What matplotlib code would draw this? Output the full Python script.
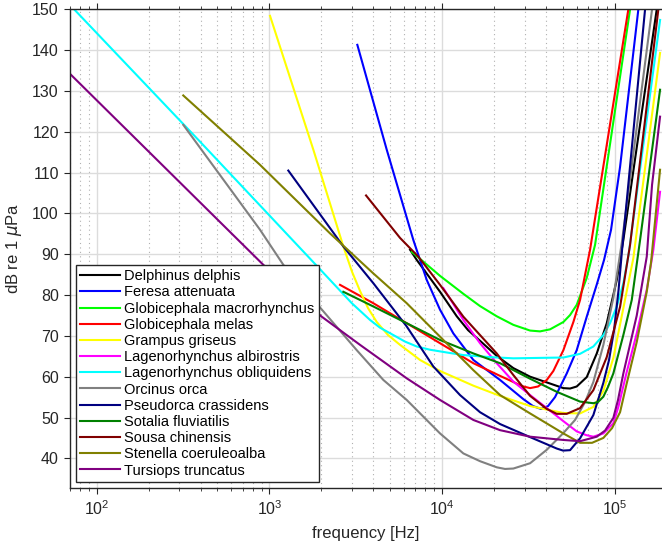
import matplotlib
matplotlib.use("Agg")
import matplotlib.pyplot as plt
from matplotlib.ticker import LogLocator, FixedLocator, NullFormatter

plt.rcParams['font.family'] = ['Liberation Sans', 'DejaVu Sans']

# audiogram curves: frequency [Hz] and threshold [dB re 1 uPa]
delphinus_f = [6520, 7129, 9723, 12150, 14130, 16570, 20710, 25840, 32300, 40350,
               50350, 55040, 60150, 68750, 78600, 89760, 102600, 112000, 174800]
delphinus_db = [91.1, 88.6, 80.8, 74.8, 71.4, 68.8, 65.1, 62.1, 60.0, 58.6,
                57.2, 57.1, 57.6, 59.9, 65.7, 73.1, 83.7, 93.5, 150.0]

feresa_f = [3228, 4778, 6810, 8144, 9723, 11610, 15160, 21640, 29530, 33590, 37380,
            41040, 45050, 52670, 60150, 68750, 78600, 86590, 95060, 107200, 136800]
feresa_db = [141.3, 115.6, 93.5, 83.7, 76.4, 70.6, 64.1, 59.2, 54.5, 52.8, 52.1,
             52.8, 55.0, 60.8, 66.5, 74.7, 82.6, 88.6, 96.0, 111.4, 150.0]

macrorhynchus_f = [6668, 9723, 13270, 16570, 20710, 25840, 32300, 36890, 42150, 50350,
                   55040, 60150, 68750, 76810, 122500]
macrorhynchus_db = [90.6, 84.7, 80.3, 77.3, 74.8, 72.7, 71.3, 71.1, 71.6, 73.4,
                    75.1, 77.6, 84.2, 92.3, 150.0]

melas_f = [2563, 3996, 6237, 9723, 15160, 21640, 25840, 29010, 32300, 35920, 40350,
           44050, 50350, 57530, 62880, 71860, 119700]
melas_db = [82.5, 78.0, 73.1, 68.2, 63.3, 60.2, 58.7, 57.7, 57.2, 57.6, 59.2,
            61.4, 66.5, 73.4, 78.8, 91.1, 150.0]

grampus_f = [1008, 1796, 2679, 3008, 3346, 3723, 4181, 4863, 5704, 7447, 9723, 15160,
             21640, 32300, 50350, 62880, 75090, 85810, 98000, 112000, 127900, 182700]
grampus_db = [148.4, 115.6, 91.9, 85.7, 81.0, 76.8, 73.4, 70.2, 67.8, 64.1, 61.4, 57.8,
              55.3, 52.8, 51.1, 51.0, 52.6, 56.5, 64.6, 76.8, 89.0, 139.3]

albirostris_f = [10160, 13270, 16570, 20710, 25840, 32300, 40350, 50350, 60150, 68130,
                 75090, 85810, 98000, 104800, 116600, 133900, 153000, 167100, 182700]
albirostris_db = [81.7, 73.9, 68.2, 63.3, 58.8, 55.5, 52.3, 49.1, 46.6, 45.7,
                  45.3, 46.1, 48.6, 52.6, 60.8, 70.6, 81.3, 91.1, 105.3]

obliquidens_f = [74, 396, 1886, 3000, 3824, 4369, 5218, 6095, 7129, 8511, 11110, 13270,
                 18940, 25820, 50350, 62880, 75090, 85810, 93800, 102600, 112000, 120000,
                 182800]
obliquidens_db = [150.0, 117.6, 87.1, 78.0, 73.9, 72.0, 70.2, 68.6, 67.4, 66.6, 65.8, 65.3,
                  64.8, 64.5, 64.7, 65.6, 67.4, 70.2, 73.1, 77.2, 82.9, 89.8,
                  147.4]

orca_f = [317, 882, 1204, 3203, 4566, 6237, 9723, 13270, 16570, 20710, 23120, 25840,
          32300, 40350, 50350, 58830, 67220, 75090, 85810, 98000, 109700, 164200]
orca_db = [121.7, 96.0, 87.4, 66.5, 59.2, 54.3, 46.1, 41.2, 39.3, 37.8, 37.4, 37.5,
           38.8, 42.1, 46.2, 49.4, 53.8, 58.7, 67.8, 79.3, 92.8, 150.0]

pseudorca_f = [1286, 2679, 3996, 6237, 8894, 12690, 16570, 21640, 32300, 46080, 50120,
               55040, 62880, 75090, 85810, 92550, 98950, 105100, 110100, 149600]
pseudorca_db = [110.5, 91.9, 82.9, 72.3, 62.5, 55.5, 51.3, 48.4, 45.2, 42.4, 41.9,
                42.0, 44.9, 50.6, 58.5, 64.1, 71.4, 81.3, 91.1, 150.0]

sotalia_f = [2679, 3996, 6237, 9723, 15160, 21640, 32300, 46080, 62880, 75090, 79930,
             85810, 91300, 98000, 112000, 125300, 140000, 182700]
sotalia_db = [80.8, 77.2, 73.1, 69.0, 65.7, 63.3, 59.5, 56.3, 53.9, 53.5, 53.8,
              55.1, 57.5, 60.8, 70.2, 78.8, 93.5, 130.3]

sousa_f = [3626, 5704, 7281, 9723, 13270, 16570, 20710, 25840, 32300, 40350, 46080,
           52670, 62880, 75090, 89760, 107200, 122500, 178600]
sousa_db = [104.4, 94.0, 89.4, 82.5, 74.7, 70.2, 65.7, 60.4, 55.3, 52.1, 50.9,
            50.9, 52.3, 56.7, 64.8, 77.1, 92.3, 150.0]

stenella_f = [317, 882, 2244, 3996, 6237, 9723, 15160, 21640, 32300, 50350, 62880, 73790,
              85810, 96340, 107200, 116600, 133900, 153000, 162100, 182700]
stenella_db = [128.9, 111.9, 95.1, 85.3, 78.0, 69.8, 61.6, 55.5, 51.0, 46.1, 43.8, 43.8,
               45.0, 47.4, 51.3, 58.0, 68.5, 80.8, 88.1, 110.7]

tursiops_f = [70, 254, 922, 2008, 3346, 6237, 9723, 15160, 21640, 32300, 50320, 62880,
              78600, 87760, 98000, 104300, 112000, 133900, 153000, 164200, 182700]
tursiops_db = [134.2, 110.8, 87.4, 74.7, 67.8, 59.6, 54.3, 49.4, 46.9, 45.3, 44.5, 44.2,
               45.3, 46.8, 49.9, 54.3, 60.8, 75.0, 89.4, 107.0, 123.7]

species = ['Delphinus delphis', 'Feresa attenuata', 'Globicephala macrorhynchus',
           'Globicephala melas', 'Grampus griseus', 'Lagenorhynchus albirostris',
           'Lagenorhynchus obliquidens', 'Orcinus orca', 'Pseudorca crassidens',
           'Sotalia fluviatilis', 'Sousa chinensis', 'Stenella coeruleoalba',
           'Tursiops truncatus']
curves = [(delphinus_f, delphinus_db), (feresa_f, feresa_db),
          (macrorhynchus_f, macrorhynchus_db), (melas_f, melas_db),
          (grampus_f, grampus_db), (albirostris_f, albirostris_db),
          (obliquidens_f, obliquidens_db), (orca_f, orca_db),
          (pseudorca_f, pseudorca_db), (sotalia_f, sotalia_db),
          (sousa_f, sousa_db), (stenella_f, stenella_db),
          (tursiops_f, tursiops_db)]
colors = ['k', (0, 0, 1), (0, 1, 0), (1, 0, 0), (1, 1, 0), (1, 0, 1), (0, 1, 1),
          (0.5, 0.5, 0.5), (0, 0, 0.5), (0, 0.5, 0), (0.5, 0, 0), (0.5, 0.5, 0),
          (0.5, 0, 0.5)]

fig = plt.figure(figsize=(6.62, 5.45), dpi=100)
ax = fig.add_axes([0.1057, 0.1051, 0.8943, 0.8778])

for name, (f, db), c in zip(species, curves, colors):
    ax.plot(f, db, color=c, lw=1.5, label=name, solid_joinstyle='round')

ax.set_xscale('log')
ax.set_xlim(70, 1.875e5)
ax.set_ylim(32.8, 150)
ax.yaxis.set_major_locator(FixedLocator(range(40, 151, 10)))
ax.xaxis.set_major_locator(LogLocator(base=10))
ax.xaxis.set_minor_locator(LogLocator(base=10, subs=range(2, 10)))
ax.xaxis.set_minor_formatter(NullFormatter())

ax.grid(True, which='major', color='#dcdcdc', lw=1.0, ls='-')
ax.grid(True, which='minor', axis='x', color='#b0b0b0', lw=0.8, ls=(0, (1, 3)))
ax.set_axisbelow(True)

ax.tick_params(which='both', direction='out', top=True, right=False,
               colors='#262626', labelcolor='#262626', labelsize=11.5)
ax.tick_params(which='major', length=4.5, width=0.8)
ax.tick_params(which='minor', length=2.5, width=0.6)
for side in ['left', 'bottom', 'top']:
    ax.spines[side].set_color('#262626')
    ax.spines[side].set_linewidth(1.0)
ax.spines['right'].set_visible(False)

ax.set_xlabel('frequency [Hz]', fontsize=12, color='#262626', labelpad=6)
ax.set_ylabel(r'dB re 1 $\mu$Pa', fontsize=12, color='#262626', labelpad=6)

leg = ax.legend(loc='lower left', fontsize=10.5, fancybox=False, framealpha=1,
                edgecolor='#262626', borderaxespad=0.4, handlelength=2.7,
                handletextpad=0.3, labelspacing=0.15, borderpad=0.3)
leg.get_frame().set_linewidth(1.0)

fig.savefig('out.png', dpi=100)
